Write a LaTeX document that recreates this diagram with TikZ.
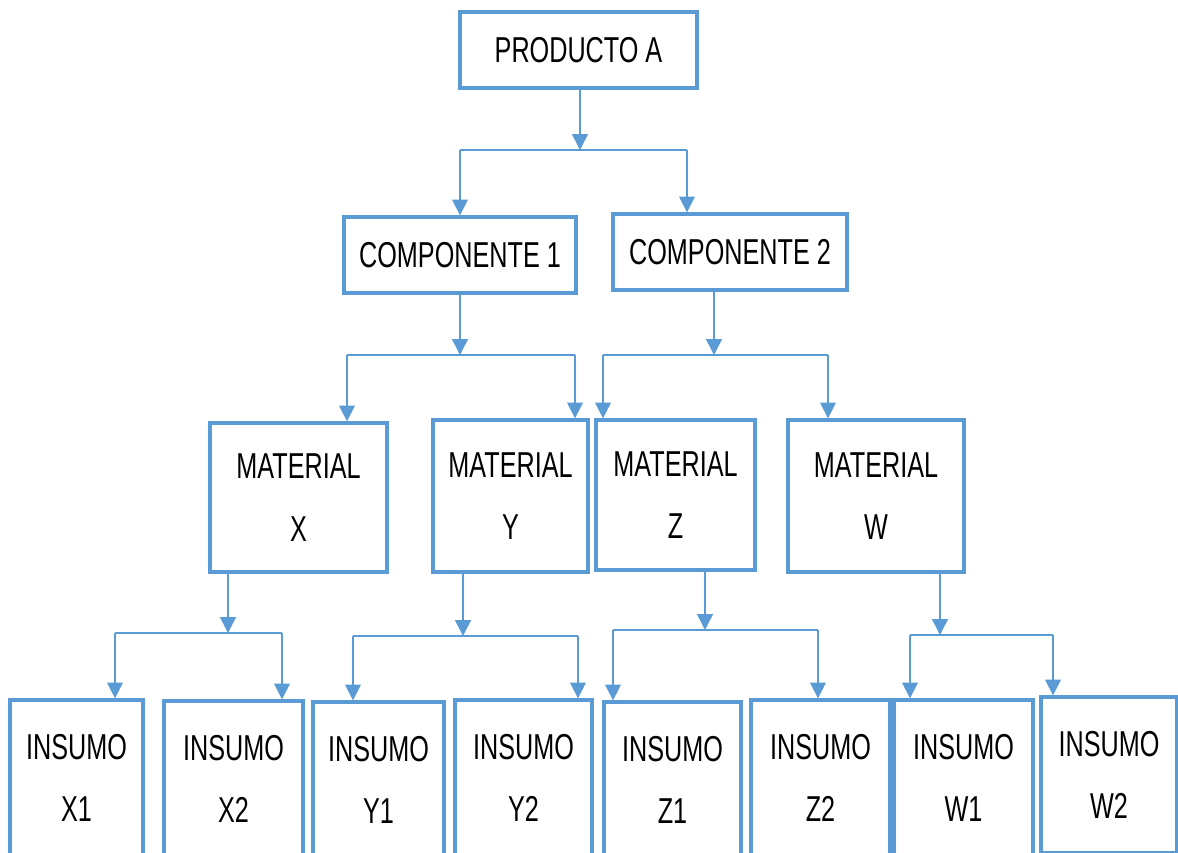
\documentclass[tikz,border=0pt]{standalone}
\usepackage{fontspec}
\setmainfont{Liberation Sans}[FakeStretch=0.7]
\usepackage{xcolor}
\usepackage{tikz}
\usetikzlibrary{arrows.meta}
\definecolor{boxblue}{HTML}{5B9BD5}

\begin{document}
\begin{tikzpicture}[x=0.02cm,y=-0.02cm,
    box/.style={draw=boxblue,line width=1.9pt,align=center,inner sep=0pt,
      font=\fontsize{20.5}{35.5}\selectfont},
    link/.style={draw=boxblue,line width=0.8pt},
    conn/.style={link,-{Triangle[width=9pt,length=9pt]}}]
          \useasboundingbox (0,0) rectangle (1178,853);
          \clip (0,0) rectangle (1178,853);
          \node[box,minimum width=4.74cm,minimum height=1.52cm] (prod) at (578.5,50) {PRODUCTO A};
          \node[box,minimum width=4.64cm,minimum height=1.52cm] (comp1) at (460,255) {COMPONENTE 1};
          \node[box,minimum width=4.68cm,minimum height=1.52cm] (comp2) at (730,252) {COMPONENTE 2};
          \foreach \n/\x/\y/\w/\h in {X/298.5/497.5/3.54/2.98, Y/510.5/496/3.10/3.04,
              Z/675.5/495/3.18/3.00, W/876/496/3.52/3.04}
            \node[box,minimum width=\w cm,minimum height=\h cm] (mat\n) at (\x,\y) {MATERIAL\\\n};
          \foreach \n/\x/\y/\w in {X1/76.5/778/2.66, X2/233.5/779/2.78, Y1/378.5/780/2.62,
              Y2/523.5/778/2.74, Z1/672.5/780/2.74, Z2/820.5/778/2.78, W1/963.5/778/2.78,
              W2/1109/775/2.72}
            \node[box,minimum width=\w cm,minimum height=3.12cm] (ins\n) at (\x,\y) {INSUMO\\\n};
          % stem, bar and the two drops of each family
          \foreach \p/\s/\b/\l/\r/\cl/\cr in {prod/580/150/460/687/comp1/comp2,
              comp1/460/355/347/575/matX/matY, comp2/714/355/603/828/matZ/matW,
              matX/228/633/115/282/insX1/insX2, matY/463/636/353/578/insY1/insY2,
              matZ/705/630/613/818/insZ1/insZ2, matW/940/635/910/1053/insW1/insW2} {
            \coordinate (j) at (\s,\b);
            \coordinate (l) at (\l,\b);
            \coordinate (r) at (\r,\b);
            \draw[conn] (j |- \p.south) -- (j);
            \draw[link] (l) -- (r);
            \draw[conn] (l) -- (l |- \cl.north);
            \draw[conn] (r) -- (r |- \cr.north);
          }
        \end{tikzpicture}
\end{document}
